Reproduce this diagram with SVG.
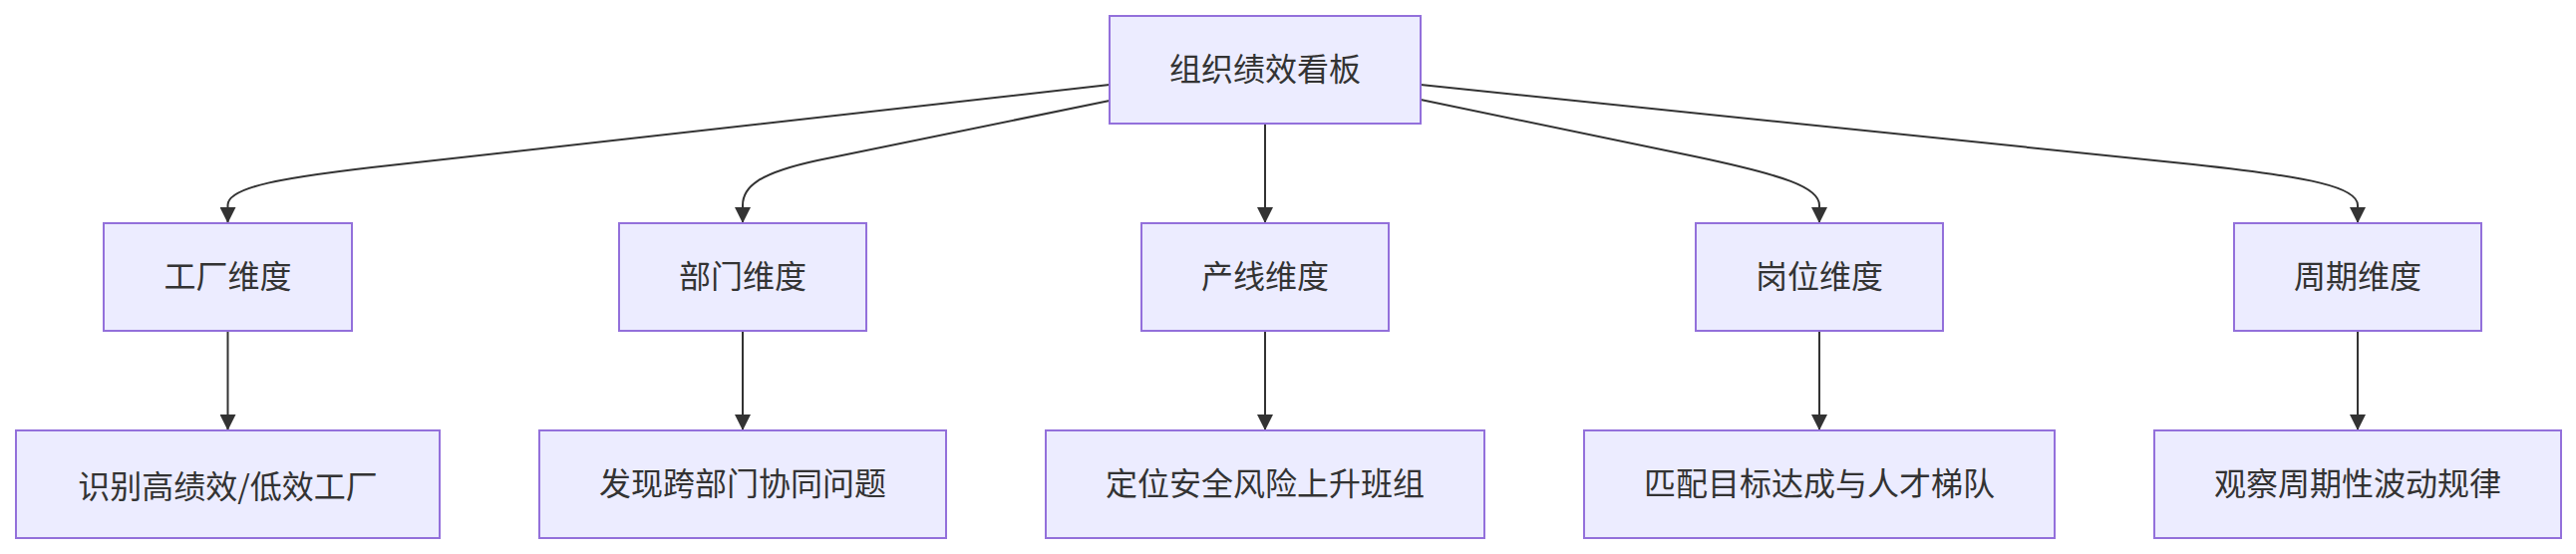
<svg xmlns="http://www.w3.org/2000/svg" width="2584" height="556" viewBox="0 0 2584 556">
<style>
.node rect{fill:#ECECFF;stroke:#9370DB;stroke-width:2}
.node text{font-family:"Liberation Sans","Noto Sans CJK SC",sans-serif;font-size:32px;fill:#333333;text-anchor:middle;dominant-baseline:central}
.node text.cjk{font-family:"Noto Sans CJK SC",sans-serif}
.edge{fill:none;stroke:#333333;stroke-width:2;marker-end:url(#arrow)}
</style>
<defs>
<marker id="arrow" viewBox="0 0 10 10" refX="10" refY="5" markerUnits="userSpaceOnUse" markerWidth="16" markerHeight="16" orient="auto">
<path d="M0,0 L10,5 L0,10 z" fill="#333333"/>
</marker>
</defs>
<rect width="2584" height="556" fill="#ffffff"/>
<g id="connectors">
<path class="edge" d="M1113,85 L400,165 C280,178 228,188 228.5,206 L228.5,224"/>
<path class="edge" d="M1113,101 L820,161 C760,174 745,188 745,206 L745,224"/>
<path class="edge" d="M1269,124 L1269,224"/>
<path class="edge" d="M1425,100 L1700,157 C1790,176 1825,188 1825,206 L1825,224"/>
<path class="edge" d="M1425,85 L2200,165 C2320,178 2365,188 2365,206 L2365,224"/>
<path class="edge" d="M228.5,332 L228.5,432"/>
<path class="edge" d="M745,332 L745,432"/>
<path class="edge" d="M1269,332 L1269,432"/>
<path class="edge" d="M1825,332 L1825,432"/>
<path class="edge" d="M2365,332 L2365,432"/>
</g>
<g id="root" class="node"><rect x="1113" y="16" width="312" height="108"/><text x="1269" y="70">组织绩效看板</text></g>
<g id="factory" class="node"><rect x="104" y="224" width="249" height="108"/><text x="228.5" y="278">工厂维度</text></g>
<g id="dept" class="node"><rect x="621" y="224" width="248" height="108"/><text x="745" y="278">部门维度</text></g>
<g id="line" class="node"><rect x="1145" y="224" width="248" height="108"/><text x="1269" y="278">产线维度</text></g>
<g id="post" class="node"><rect x="1701" y="224" width="248" height="108"/><text x="1825" y="278">岗位维度</text></g>
<g id="period" class="node"><rect x="2241" y="224" width="248" height="108"/><text x="2365" y="278">周期维度</text></g>
<g id="factoryResult" class="node"><rect x="16" y="432" width="425" height="108"/><text class="cjk" x="228.5" y="486">识别高绩效/低效工厂</text></g>
<g id="deptResult" class="node"><rect x="541" y="432" width="408" height="108"/><text x="745" y="486">发现跨部门协同问题</text></g>
<g id="lineResult" class="node"><rect x="1049" y="432" width="440" height="108"/><text x="1269" y="486">定位安全风险上升班组</text></g>
<g id="postResult" class="node"><rect x="1589" y="432" width="472" height="108"/><text x="1825" y="486">匹配目标达成与人才梯队</text></g>
<g id="periodResult" class="node"><rect x="2161" y="432" width="408" height="108"/><text x="2365" y="486">观察周期性波动规律</text></g>
</svg>
